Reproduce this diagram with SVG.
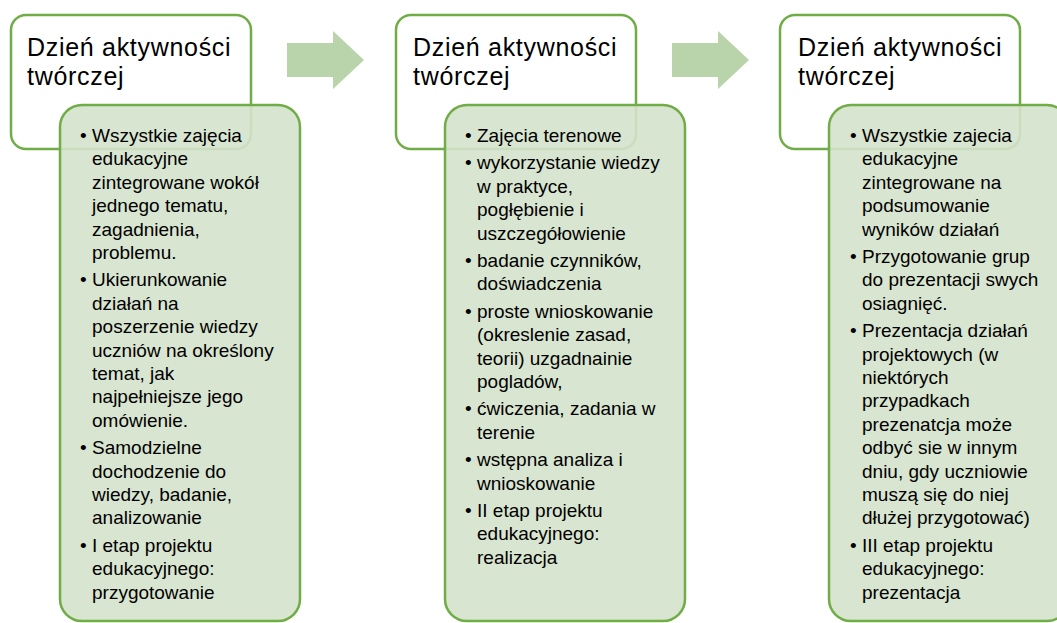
<svg xmlns="http://www.w3.org/2000/svg" width="1057" height="623" viewBox="0 0 1057 623">
<style>
.hdr{fill:#FFFFFF;stroke:#70AD47;stroke-width:2.5}
.body{fill:#D4E2CC;fill-opacity:0.9;stroke:#70AD47;stroke-width:2.5}
.arrow{fill:#B9D3AB}
.title{font-family:"Liberation Sans",Arial,sans-serif;font-size:25px;letter-spacing:0.7px;fill:#000}
.txt{font-family:"Liberation Sans",Arial,sans-serif;font-size:19px;fill:#000}
</style>
<rect width="1057" height="623" fill="#FFFFFF"/>
<g id="connectors">
<polygon class="arrow" points="287,43 333,43 333,31 364,60 333,89 333,77 287,77"/>
<polygon class="arrow" points="672,43 718,43 718,31 749,60 718,89 718,77 672,77"/>
</g>
<g id="node1">
<rect class="hdr" x="11" y="15" width="240" height="134" rx="15"/>
<text class="title" x="27" y="56">Dzień aktywności</text>
<text class="title" x="27" y="85">twórczej</text>
<rect class="body" x="60" y="105" width="240" height="516" rx="22"/>
<g class="txt">
<text x="80" y="142">•</text>
<text x="92" y="142">Wszystkie zajęcia</text>
<text x="92" y="165.4">edukacyjne</text>
<text x="92" y="188.8">zintegrowane wokół</text>
<text x="92" y="212.2">jednego tematu,</text>
<text x="92" y="235.6">zagadnienia,</text>
<text x="92" y="259">problemu.</text>
<text x="80" y="286.4">•</text>
<text x="92" y="286.4">Ukierunkowanie</text>
<text x="92" y="309.8">działań na</text>
<text x="92" y="333.2">poszerzenie wiedzy</text>
<text x="92" y="356.6">uczniów na określony</text>
<text x="92" y="380">temat, jak</text>
<text x="92" y="403.4">najpełniejsze jego</text>
<text x="92" y="426.8">omówienie.</text>
<text x="80" y="454.2">•</text>
<text x="92" y="454.2">Samodzielne</text>
<text x="92" y="477.6">dochodzenie do</text>
<text x="92" y="501">wiedzy, badanie,</text>
<text x="92" y="524.4">analizowanie</text>
<text x="80" y="551.8">•</text>
<text x="92" y="551.8">I etap projektu</text>
<text x="92" y="575.2">edukacyjnego:</text>
<text x="92" y="598.6">przygotowanie</text>
</g>
</g>
<g id="node2">
<rect class="hdr" x="396" y="15" width="240" height="134" rx="15"/>
<text class="title" x="413" y="56">Dzień aktywności</text>
<text class="title" x="413" y="85">twórczej</text>
<rect class="body" x="445" y="105" width="240" height="516" rx="22"/>
<g class="txt">
<text x="465" y="142">•</text>
<text x="477" y="142">Zajęcia terenowe</text>
<text x="465" y="169.4">•</text>
<text x="477" y="169.4">wykorzystanie wiedzy</text>
<text x="477" y="192.8">w praktyce,</text>
<text x="477" y="216.2">pogłębienie i</text>
<text x="477" y="239.6">uszczegółowienie</text>
<text x="465" y="267">•</text>
<text x="477" y="267">badanie czynników,</text>
<text x="477" y="290.4">doświadczenia</text>
<text x="465" y="317.8">•</text>
<text x="477" y="317.8">proste wnioskowanie</text>
<text x="477" y="341.2">(okreslenie zasad,</text>
<text x="477" y="364.6">teorii) uzgadnainie</text>
<text x="477" y="388">pogladów,</text>
<text x="465" y="415.4">•</text>
<text x="477" y="415.4">ćwiczenia, zadania w</text>
<text x="477" y="438.8">terenie</text>
<text x="465" y="466.2">•</text>
<text x="477" y="466.2">wstępna analiza i</text>
<text x="477" y="489.6">wnioskowanie</text>
<text x="465" y="517">•</text>
<text x="477" y="517">II etap projektu</text>
<text x="477" y="540.4">edukacyjnego:</text>
<text x="477" y="563.8">realizacja</text>
</g>
</g>
<g id="node3">
<rect class="hdr" x="780" y="15" width="240" height="134" rx="15"/>
<text class="title" x="798" y="56">Dzień aktywności</text>
<text class="title" x="798" y="85">twórczej</text>
<rect class="body" x="829" y="105" width="240" height="516" rx="22"/>
<g class="txt">
<text x="850" y="142">•</text>
<text x="862" y="142">Wszystkie zajecia</text>
<text x="862" y="165.4">edukacyjne</text>
<text x="862" y="188.8">zintegrowane na</text>
<text x="862" y="212.2">podsumowanie</text>
<text x="862" y="235.6">wyników działań</text>
<text x="850" y="263">•</text>
<text x="862" y="263">Przygotowanie grup</text>
<text x="862" y="286.4">do prezentacji swych</text>
<text x="862" y="309.8">osiagnięć.</text>
<text x="850" y="337.2">•</text>
<text x="862" y="337.2">Prezentacja działań</text>
<text x="862" y="360.6">projektowych (w</text>
<text x="862" y="384">niektórych</text>
<text x="862" y="407.4">przypadkach</text>
<text x="862" y="430.8">prezenatcja może</text>
<text x="862" y="454.2">odbyć sie w innym</text>
<text x="862" y="477.6">dniu, gdy uczniowie</text>
<text x="862" y="501">muszą się do niej</text>
<text x="862" y="524.4">dłużej przygotować)</text>
<text x="850" y="551.8">•</text>
<text x="862" y="551.8">III etap projektu</text>
<text x="862" y="575.2">edukacyjnego:</text>
<text x="862" y="598.6">prezentacja</text>
</g>
</g>
</svg>
